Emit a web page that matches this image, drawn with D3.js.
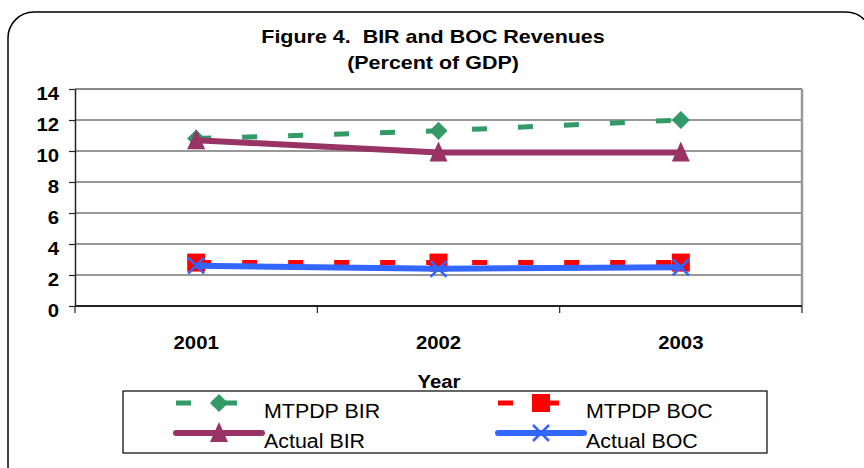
<!DOCTYPE html>
<html>
<head>
<meta charset="utf-8">
<script src="https://cdn.jsdelivr.net/npm/d3@7"></script>
<style>
  body { margin: 0; background: #fff; }
  svg text { font-family: "Liberation Sans", Arial, sans-serif; }
</style>
</head>
<body>
<svg id="chart" width="864" height="468"></svg>
<script>
// data
var years = ["2001", "2002", "2003"];
var mtpdpBIR = [10.8, 11.3, 12.0];
var actualBIR = [10.7, 9.9, 9.9];
var mtpdpBOC = [2.8, 2.8, 2.8];
var actualBOC = [2.6, 2.4, 2.5];
var yTicks = [0, 2, 4, 6, 8, 10, 12, 14];

var series = [
  { name: "MTPDP BIR", values: mtpdpBIR, color: "#339966", width: 5, dash: "15,31", marker: "diamond" },
  { name: "MTPDP BOC", values: mtpdpBOC, color: "#ff0000", width: 5, dash: "15,31", marker: "square" },
  { name: "Actual BIR", values: actualBIR, color: "#993366", width: 6, dash: null, marker: "triangle" },
  { name: "Actual BOC", values: actualBOC, color: "#3366ff", width: 6, dash: null, marker: "cross" }
];

var svg = d3.select("#chart");
var margin = { left: 75, top: 89, right: 62, bottom: 162 };
var w = 864 - margin.left - margin.right,
    h = 468 - margin.top - margin.bottom;

// the original is a bit stretched sideways, so text gets a horizontal scale
function label(sel, px, py, str, size, bold, anchor, sx) {
  return sel.append("text")
    .attr("transform", "translate(" + px + "," + py + ") scale(" + sx + ",1)")
    .attr("text-anchor", anchor)
    .attr("font-size", size)
    .attr("font-weight", bold ? "bold" : "normal")
    .attr("fill", "#000")
    .attr("xml:space", "preserve")
    .text(str);
}

// outer rounded frame
svg.append("rect")
  .attr("x", 8).attr("y", 12)
  .attr("width", 864).attr("height", 480)
  .attr("rx", 26).attr("ry", 26)
  .attr("fill", "none").attr("stroke", "#000").attr("stroke-width", 1.5);

// title
label(svg, 433, 43, "Figure 4.  BIR and BOC Revenues", 19, true, "middle", 1.13);
label(svg, 433, 69, "(Percent of GDP)", 19, true, "middle", 1.13);

var x = d3.scaleBand().domain(years).range([0, w]);
var y = d3.scaleLinear().domain([0, 14]).range([h, 0]);

var g = svg.append("g").attr("transform", "translate(" + margin.left + "," + margin.top + ")");

// gridlines
g.selectAll(".grid").data(yTicks.filter(function(d){ return d > 0; }))
  .enter().append("line")
  .attr("x1", 0).attr("x2", w)
  .attr("y1", function(d){ return y(d); }).attr("y2", function(d){ return y(d); })
  .attr("stroke", function(d){ return d == 14 ? "#888" : "#333"; })
  .attr("stroke-width", function(d){ return d == 14 ? 2 : 1.2; });

// right border
g.append("line").attr("x1", w).attr("x2", w).attr("y1", 0).attr("y2", h)
  .attr("stroke", "#999").attr("stroke-width", 2.5);

// y axis
var yAxis = g.append("g").call(d3.axisLeft(y).tickValues(yTicks).tickSize(6).tickSizeOuter(0));
yAxis.select(".domain").attr("stroke", "#222").attr("stroke-width", 1.5);
yAxis.selectAll(".tick line").attr("stroke", "#222").attr("stroke-width", 1.2);
yAxis.selectAll(".tick text")
  .attr("x", null).attr("dy", null)
  .attr("transform", "translate(-16,10) scale(1.13,1)")
  .attr("font-size", 18).attr("font-weight", "bold")
  .attr("fill", "#000").attr("font-family", "Liberation Sans, Arial, sans-serif");

// x axis with boundary ticks
var xg = g.append("g").attr("transform", "translate(0," + h + ")");
xg.append("line").attr("x1", 0).attr("x2", w).attr("stroke", "#222").attr("stroke-width", 2);
xg.selectAll(".xt").data(d3.range(years.length + 1))
  .enter().append("line")
  .attr("x1", function(i){ return i * x.step(); }).attr("x2", function(i){ return i * x.step(); })
  .attr("y1", 0).attr("y2", 7).attr("stroke", "#222").attr("stroke-width", 1.2);
years.forEach(function(d){
  label(xg, x(d) + x.bandwidth() / 2, 43, d, 18, true, "middle", 1.13);
});

label(svg, 439, 388, "Year", 18, true, "middle", 1.13);

var cx = function(i){ return x(years[i]) + x.bandwidth() / 2; };

function drawMarker(sel, s, px, py) {
  if (s.marker == "diamond") {
    sel.append("path").attr("d", d3.symbol().type(d3.symbolDiamond2).size(210)())
      .attr("transform", "translate(" + px + "," + py + ")").attr("fill", s.color);
  } else if (s.marker == "square") {
    sel.append("rect").attr("x", px - 9).attr("y", py - 9).attr("width", 18).attr("height", 18)
      .attr("fill", s.color);
  } else if (s.marker == "triangle") {
    sel.append("path").attr("d", "M0,-11L9,9L-9,9Z")
      .attr("transform", "translate(" + px + "," + py + ")").attr("fill", s.color);
  } else {
    sel.append("path").attr("d", "M-8,-8L8,8M-8,8L8,-8")
      .attr("transform", "translate(" + px + "," + py + ")")
      .attr("stroke", s.color).attr("stroke-width", 2.5).attr("fill", "none");
  }
}

var line = d3.line().x(function(d, i){ return cx(i); }).y(function(d){ return y(d); });

series.forEach(function(s){
  g.append("path").datum(s.values)
    .attr("d", line).attr("fill", "none")
    .attr("stroke", s.color).attr("stroke-width", s.width)
    .attr("stroke-dasharray", s.dash);
  s.values.forEach(function(v, i){ drawMarker(g, s, cx(i), y(v)); });
});

// legend
var lg = svg.append("g");
lg.append("rect").attr("x", 123).attr("y", 391).attr("width", 644).attr("height", 62)
  .attr("fill", "#fff").attr("stroke", "#000").attr("stroke-width", 1.2);

var legendPos = [
  { s: series[0], x: 176, y: 403 },
  { s: series[1], x: 498, y: 403 },
  { s: series[2], x: 176, y: 433 },
  { s: series[3], x: 498, y: 433 }
];
legendPos.forEach(function(p){
  var s = p.s;
  lg.append("line").attr("x1", p.x).attr("x2", p.x + (s.dash ? 61 : 86)).attr("y1", p.y).attr("y2", p.y)
    .attr("stroke", s.color).attr("stroke-width", s.width)
    .attr("stroke-linecap", s.dash ? "butt" : "round")
    .attr("stroke-dasharray", s.dash ? "15,21,25" : null);
  drawMarker(lg, s, p.x + 43, p.y);
  label(lg, p.x + 88, p.y + 15, s.name, 20, false, "start", 1.07);
});
</script>
</body>
</html>
